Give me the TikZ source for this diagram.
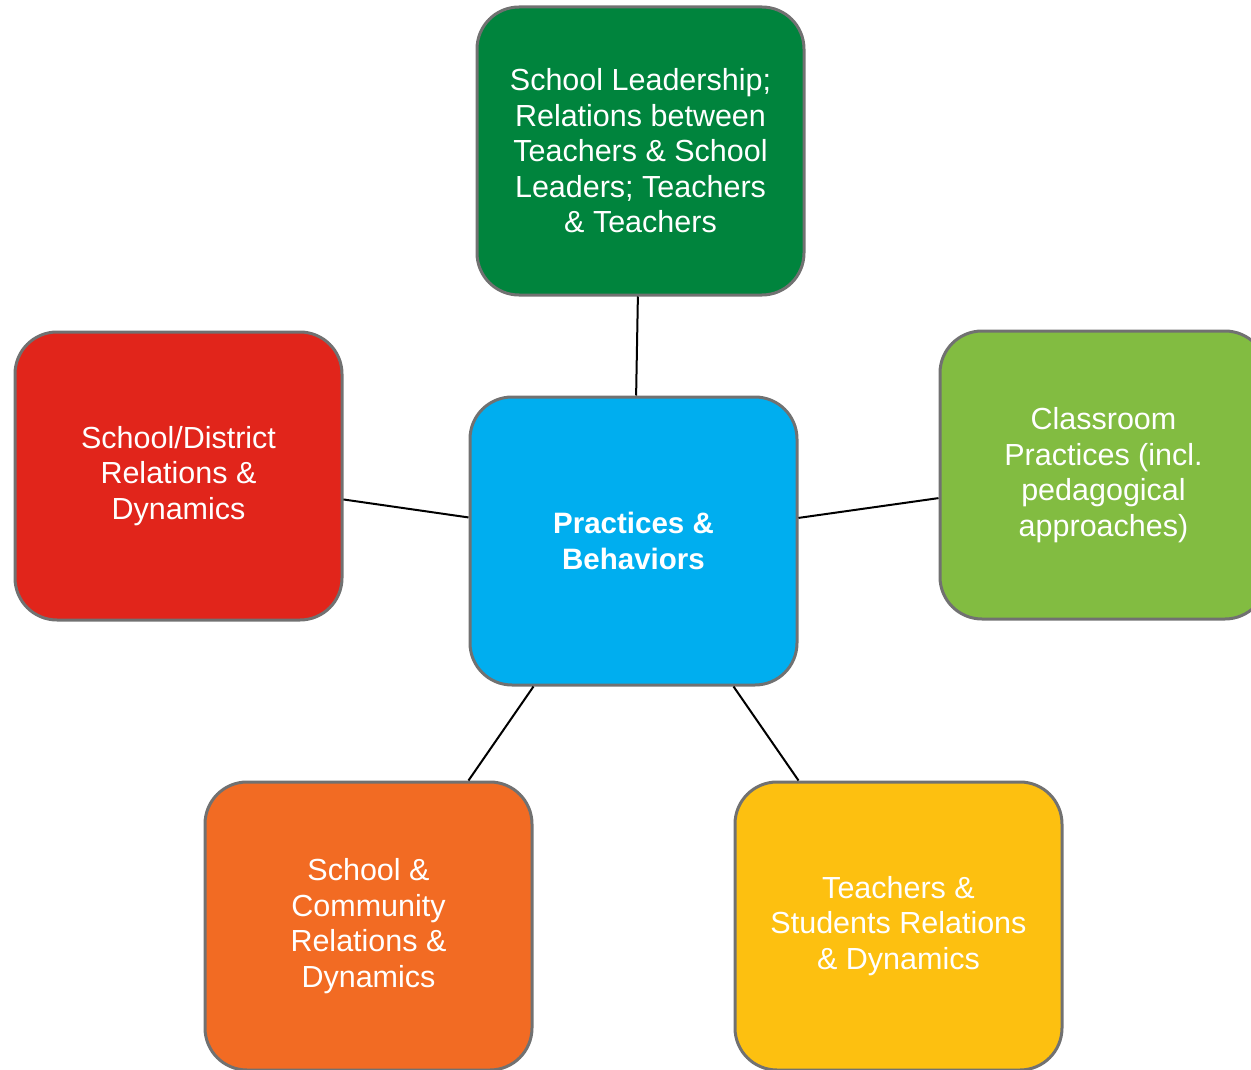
\documentclass[tikz,border=0pt]{standalone}
\usepackage{fontspec}
\setmainfont{Liberation Sans}
\definecolor{cgreen}{HTML}{00843D}
\definecolor{cblue}{HTML}{00AEEF}
\definecolor{cred}{HTML}{E1251B}
\definecolor{clime}{HTML}{82BC41}
\definecolor{corange}{HTML}{F26B23}
\definecolor{cyellow}{HTML}{FDC010}
\definecolor{cborder}{HTML}{717171}
\tikzset{
  topicbox/.style={draw=cborder, line width=3pt, rounded corners=42pt,
    minimum width=327pt, minimum height=288pt, inner sep=0pt,
    text=white, align=center, font=\fontsize{30.5}{35.5}\selectfont},
  link/.style={draw=black, line width=2pt}
}
\begin{document}
\begin{tikzpicture}[x=1pt,y=-1pt]
\path[use as bounding box, clip] (0,0) rectangle (1251,1070);
\node[topicbox, fill=cblue, font=\bfseries\fontsize{29.5}{35.5}\selectfont] (c) at (633.5,541) {Practices \&\\Behaviors};
\node[topicbox, fill=cgreen] (t) at (640.5,151) {School Leadership;\\Relations between\\Teachers \& School\\Leaders; Teachers\\\& Teachers};
\node[topicbox, fill=cred] (l) at (178.5,476) {School/District\\Relations \&\\Dynamics};
\node[topicbox, fill=clime] (r) at (1103.5,475) {Classroom\\Practices (incl.\\pedagogical\\approaches)};
\node[topicbox, fill=corange] (bl) at (368.5,926) {School \&\\Community\\Relations \&\\Dynamics};
\node[topicbox, fill=cyellow] (br) at (898.5,926) {Teachers \&\\Students Relations\\\& Dynamics};
\draw[link] (t) -- (c);
\draw[link] (l) -- (c);
\draw[link] (r) -- (c);
\draw[link] (bl) -- (c);
\draw[link] (br) -- (c);
\end{tikzpicture}
\end{document}
